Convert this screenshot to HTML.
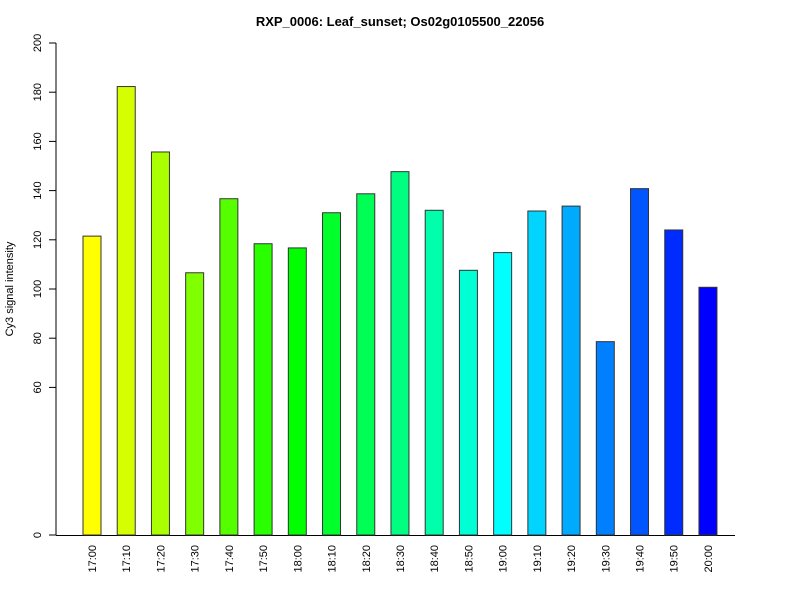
<!DOCTYPE html>
<html><head><meta charset="utf-8"><style>
body{margin:0;background:#fff;}
svg{display:block;font-family:"Liberation Sans",Arial,sans-serif;}
</style></head><body>
<svg width="800" height="600" viewBox="0 0 800 600">
<text x="400" y="26" text-anchor="middle" font-weight="bold" font-size="13">RXP_0006: Leaf_sunset; Os02g0105500_22056</text>
<text transform="translate(13,289) rotate(-90)" text-anchor="middle" font-size="11">Cy3 signal intensity</text>
<g id="axes"></g><g id="bars"></g>
</svg>
<script>
const categories=["17:00","17:10","17:20","17:30","17:40","17:50","18:00","18:10","18:20","18:30","18:40","18:50","19:00","19:10","19:20","19:30","19:40","19:50","20:00"];
const values=[121.5,182.3,155.7,106.6,136.7,118.4,116.7,131,138.7,147.7,132,107.6,114.8,131.7,133.7,78.6,140.8,124,100.7];
const yTicks=[0,60,80,100,120,140,160,180,200];
const NS="http://www.w3.org/2000/svg";
function y(v){return 535-v*2.46;}
function x(i){return 83+i*34.22;}
const axes=document.getElementById('axes'),bars=document.getElementById('bars');
function mk(tag,attrs,parent){const e=document.createElementNS(NS,tag);for(const k in attrs)e.setAttribute(k,attrs[k]);parent.appendChild(e);return e;}
const yl=mk('line',{x1:56,x2:56,y1:y(0),y2:y(200),stroke:'#000'},axes);


const xl=mk('line',{x1:56,x2:735,y1:535.5,y2:535.5,stroke:'#000'},axes);


yTicks.forEach(t=>{
 mk('line',{x1:49,x2:56,y1:y(t),y2:y(t),stroke:'#000'},axes);
 const tx=mk('text',{transform:`translate(41,${y(t)}) rotate(-90)`,'text-anchor':'middle','font-size':11},axes);
 tx.textContent=t;
 
 
});
const n=categories.length;
categories.forEach((c,i)=>{
 const h=60+180*i/(n-1);
 const r=mk('rect',{x:x(i),y:y(values[i]),width:18,height:y(0)-y(values[i]),fill:`hsl(${h},100%,50%)`,stroke:'#333','stroke-width':1},bars);
 
 
 const tx=mk('text',{transform:`translate(${x(i)+13},545) rotate(-90)`,'text-anchor':'end','font-size':11},axes);
 tx.textContent=c;
 
 
});
</script>
</body></html>
